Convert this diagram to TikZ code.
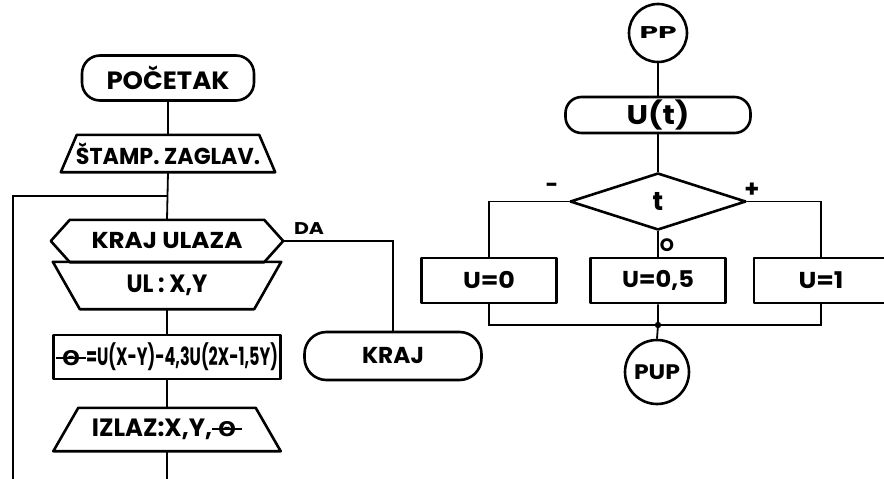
\documentclass[tikz,border=0pt]{standalone}
\usepackage{fontspec}
\setmainfont{Poppins}
\newfontfamily\dejavu{DejaVu Sans}
\usepackage{graphicx}
\usetikzlibrary{shapes.geometric,calc}
\newlength\fitlen
\newcommand\fitx[2]{\settowidth\fitlen{#2}\edef\fitfac{\fpeval{round(#1/\fitlen,4)}}\scalebox{\fitfac}[1]{#2}}
\newcommand\fs[1]{\fontsize{#1}{#1}\selectfont\bfseries}
\newcommand\thet{\ooalign{\hfil\resizebox{18pt}{15pt}{\dejavu Θ}\hfil\cr\rule[6.5pt]{30pt}{2.2pt}\cr}}
\tikzset{
  shp/.style={line width=2.6pt, line join=round},
  con/.style={line width=1.8pt},
  box/.style={draw, shp, inner sep=0pt},
  ghost/.style={draw=none, inner sep=0pt},
  lbl/.style={inner sep=0pt},
}
\begin{document}
\begin{tikzpicture}[x=1pt,y=-1pt]
\useasboundingbox (0,0) rectangle (884,479);
\fill[white] (0,0) rectangle (884,479);

% ---------- left flowchart ----------
\node[box, minimum width=172pt, minimum height=45pt, rounded corners=18pt, font=\fs{25}] (poc) at (168,78) {\fitx{123}{POČETAK}};

\node[ghost, minimum width=214pt, minimum height=37pt, font=\fs{23}] (st) at (168,153.5) {\fitx{184}{ŠTAMP. ZAGLAV.}};
\draw[shp] ($(st.north west)+(16,0)$) -- ($(st.north east)+(-16,0)$) -- (st.south east) -- (st.south west) -- cycle;

\node[ghost, minimum width=232pt, minimum height=42pt, font=\fs{23}] (kru) at (167,241) {\fitx{151}{KRAJ ULAZA}};
\draw[shp] (kru.west) -- ($(kru.north west)+(19,0)$) -- ($(kru.north east)+(-19,0)$) -- (kru.east) -- ($(kru.south east)+(-19,0)$) -- ($(kru.south west)+(19,0)$) -- cycle;

\node[ghost, minimum width=228pt, minimum height=47pt, font=\fs{25}] (ul) at (167,285.5) {\fitx{81}{UL : X,Y}};
\draw[shp] (ul.north west) -- (ul.north east) -- ($(ul.south east)+(-27,0)$) -- ($(ul.south west)+(27,0)$) -- cycle;

\node[box, minimum width=227pt, minimum height=44pt, font=\fs{25}] (th) at (167,357) {\thet\fitx{192}{=U(X-Y)-4,3U(2X-1,5Y)}};

\node[ghost, minimum width=227pt, minimum height=43pt, font=\fs{25}] (iz) at (167,429.5) {\fitx{120}{IZLAZ:X,Y,}\thet};
\draw[shp] ($(iz.north west)+(25,0)$) -- ($(iz.north east)+(-25,0)$) -- (iz.south east) -- (iz.south west) -- cycle;

\node[box, minimum width=177pt, minimum height=48pt, rounded corners=22pt, font=\fs{23}] (kraj) at (393,356) {\fitx{62}{KRAJ}};

\coordinate (j1) at (167,196);
\coordinate (lc) at (13,196);
\coordinate (lb) at (13,479);
\coordinate (bot) at (167,479);
\coordinate (dac) at (393,241);

\draw[con] (poc.south) -- (st.north);
\draw[con] (st.south) -- (kru.north);
\draw[con] (j1) -- (lc) -- (lb);
\draw[con] (ul.south) -- (th.north);
\draw[con] (th.south) -- (iz.north);
\draw[con] (iz.south) -- (bot);
\draw[con] (kru.east) -- (dac) -- (kraj.north);
\node[lbl, font=\fs{17}] (da) at (309,229) {\fitx{30}{DA}};

% ---------- right flowchart ----------
\node[circle, box, minimum size=58pt, font=\fs{17}] (pp) at (658,33) {\fitx{37}{PP}};
\node[box, minimum width=185pt, minimum height=36pt, rounded corners=16pt, font=\fs{27}] (ut) at (658,115) {\fitx{63}{U(t)}};
\node[diamond, box, minimum width=176pt, minimum height=57pt, font=\fs{26}] (d) at (658,201.5) {t};

\node[box, minimum width=135pt, minimum height=45pt, font=\fs{23}] (u0) at (489,280.5) {\fitx{52}{U=0}};
\node[box, minimum width=135pt, minimum height=45pt, font=\fs{23}] (u05) at (658,280.5) {\fitx{72}{U=0,5}};
\node[box, minimum width=134pt, minimum height=45pt, font=\fs{23}] (u1) at (821,280.5) {\fitx{45}{U=1}};

\node[circle, box, minimum size=64pt, font=\fs{21}] (pup) at (657,372) {\fitx{46}{PUP}};

\coordinate (m) at (658,325);

\draw[con] (pp.south) -- (ut.north);
\draw[con] (ut.south) -- (d.north);
\draw[con] (d.west) -| (u0.north);
\draw[con] (d.east) -| (u1.north);
\draw[con] (d.south) -- (u05.north);
\draw[con] (u0.south) |- (m);
\draw[con] (u1.south) |- (m);
\draw[con] (u05.south) -- (m) -- (pup.north);
\fill (m) circle (3.2pt);

\node[lbl, font=\fs{22}] (minus) at (552,188) {-};
\node[lbl, font=\fs{24}] (plus) at (752,190) {+};
\node[lbl, font=\fs{18}] (zero) at (667,245) {O};
\end{tikzpicture}
\end{document}
